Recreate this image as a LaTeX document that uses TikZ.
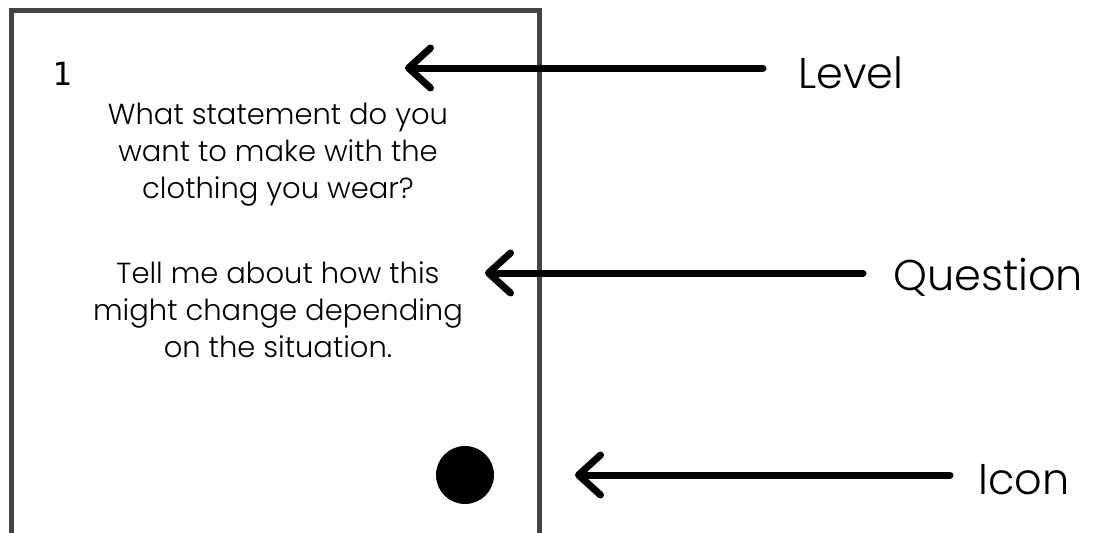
\documentclass[tikz,border=0pt]{standalone}
\usepackage{fontspec}
\setmainfont{Poppins}[UprightFont=* Light]
\newfontfamily\levelfont{DejaVu Sans Mono}
\usetikzlibrary{arrows.meta}
\definecolor{cardgray}{HTML}{444444}
\tikzset{
    pointer/.style={line width=7pt, line cap=round,
        -{Straight Barb[length=22pt, width=40pt, line cap=round, line join=round]}},
    caption/.style={font=\fontsize{43}{50}\selectfont, inner sep=0pt, anchor=base west}
}

\begin{document}
\begin{tikzpicture}[x=1pt, y=-1pt]
    \useasboundingbox (0,0) rectangle (1101,533);
    % Draw the card (open at the bottom)
    \draw[cardgray, line width=5pt] (11.5,540) -- (11.5,10.5) -- (539.5,10.5) -- (539.5,540);
    % Card contents
    \node[font=\fontsize{32}{36}\selectfont\levelfont, inner sep=0pt] (level) at (62,74) {1};
    \node[font=\fontsize{29}{37}\selectfont, align=center, inner sep=0pt, anchor=north] (question) at (278,103)
        {What statement do you\\want to make with the\\clothing you wear?\\[48pt]Tell me about how this\\might change depending\\on the situation.};
    \fill (465,475) circle[radius=29] coordinate (icon);
    % Tips of the arrows
    \coordinate (leveltip) at (405,68);
    \coordinate (questiontip) at (485,273);
    \coordinate (icontip) at (575,475);
    % Captions on the right
    \node[caption] (lvl) at (798,88) {Level};
    \node[caption] (qst) at (893,290) {Question};
    \node[caption] (icn) at (978,494) {Icon};
    % Arrows
    \draw[pointer, shorten <=35pt] (lvl.west |- leveltip) -- (leveltip);
    \draw[pointer, shorten <=30pt] (qst.west |- questiontip) -- (questiontip);
    \draw[pointer, shorten <=28pt] (icn.west |- icontip) -- (icontip);
\end{tikzpicture}
\end{document}
